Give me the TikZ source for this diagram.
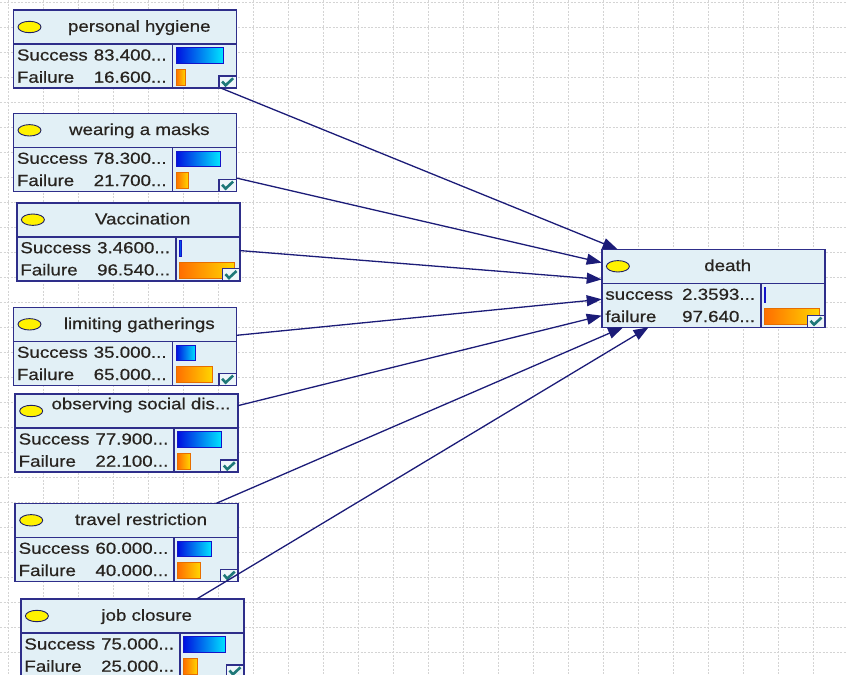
\documentclass[tikz,border=0pt]{standalone}
\usepackage{fontspec}
\setmainfont{Liberation Sans}[FakeStretch=1.17,FakeBold=0.6]
\usetikzlibrary{arrows.meta}
\definecolor{bnborder}{RGB}{46,46,138}
\definecolor{bnfill}{RGB}{226,240,246}
\definecolor{edgecol}{RGB}{28,28,120}
\definecolor{gridcol}{RGB}{212,212,212}
\definecolor{txtcol}{RGB}{40,36,32}
\definecolor{checkcol}{RGB}{30,120,120}
\definecolor{bluedark}{RGB}{0,16,224}
\definecolor{bluelight}{RGB}{0,230,255}
\definecolor{orangedark}{RGB}{255,110,0}
\definecolor{orangelight}{RGB}{255,215,0}
\definecolor{blueline}{RGB}{20,20,200}
\definecolor{orangeline}{RGB}{230,110,0}
\tikzset{
 bnbox/.style={draw=bnborder, fill=bnfill, line width=1.6pt, rectangle, minimum width=223pt, minimum height=78pt, anchor=north west, inner sep=0pt, outer sep=0pt},
 bnline/.style={draw=bnborder, line width=1.6pt},
 ellip/.style={draw=bnborder!70!black, fill=yellow, line width=0.9pt},
 titletext/.style={anchor=base, text=txtcol, font=\fontsize{16}{19}\selectfont, inner sep=0pt},
 rowtext/.style={text=txtcol, font=\fontsize{16}{19}\selectfont, inner sep=0pt},
 edge/.style={draw=edgecol, line width=1.3pt, -{Triangle[length=15pt,width=11pt]}},
 gridline/.style={draw=gridcol, line width=0.8pt, dash pattern=on 2pt off 1.5pt},
 checkbox/.style={draw=bnborder, fill=bnfill!60!white, line width=1.4pt},
 checkmark/.style={draw=checkcol, line width=2.6pt},
 bluebar/.style={left color=bluedark, right color=bluelight},
 orangebar/.style={left color=orangedark, right color=orangelight},
}
\newcommand{\bnnode}[9]{%
\begin{scope}[shift={(#2)}]
\node[bnbox] (#1) at (0,0) {};
\draw[bnline] (0,34) -- (223,34);
\draw[bnline] (159,34) -- (159,78);
\draw[ellip] (16.2,17) ellipse [x radius=11.5, y radius=5.7];
\node[titletext] (#1-t) at (126,21.7) {#3};
\node[rowtext, anchor=base west] (#1-sl) at (3.5,50.5) {#4};
\node[rowtext, anchor=base east] (#1-sv) at (153.5,50.5) {#5};
\node[rowtext, anchor=base west] (#1-fl) at (3.5,72.7) {#6};
\node[rowtext, anchor=base east] (#1-fv) at (153.5,72.7) {#7};
\shade[bluebar] (162.7,37.7) rectangle ++({56.5*#8},15.6);
\draw[blueline, line width=0.8pt] (162.7,37.7) rectangle ++({56.5*#8},15.6);
\shade[orangebar] (162.7,59.5) rectangle ++({56.5*#9},16);
\draw[orangeline, line width=0.8pt] (162.7,59.5) rectangle ++({56.5*#9},16);
\draw[checkbox] (205.5,66) rectangle (223,78);
\draw[checkmark] (208.8,71.5) -- (212.3,75.3) -- (219.8,68.3);
\end{scope}}
\begin{document}
\begin{tikzpicture}[x=1pt,y=-1pt]
\fill[white] (0,0) rectangle (847,675);
\useasboundingbox (0,0) rectangle (847,675);
\foreach \x in {8,43,...,848} \draw[gridline] (\x,0) -- (\x,675);
\foreach \y in {2,27,...,677} \draw[gridline] (0,\y) -- (847,\y);
\bnnode{ph}{13.3,10}{personal hygiene}{Success}{83.400...}{Failure}{16.600...}{0.834}{0.166}
\bnnode{wm}{13.3,113.3}{wearing a masks}{Success}{78.300...}{Failure}{21.700...}{0.783}{0.217}
\bnnode{va}{16.7,202.7}{Vaccination}{Success}{3.4600...}{Failure}{96.540...}{0.0346}{0.9654}
\bnnode{lg}{13.3,307.3}{limiting gatherings}{Success}{35.000...}{Failure}{65.000...}{0.35}{0.65}
\bnnode{os}{15,394}{\raisebox{6.4pt}{observing social dis...}}{Success}{77.900...}{Failure}{22.100...}{0.779}{0.221}
\bnnode{tr}{15,503.3}{travel restriction}{Success}{60.000...}{Failure}{40.000...}{0.6}{0.4}
\bnnode{jc}{20.7,599}{job closure}{Success}{75.000...}{Failure}{25.000...}{0.75}{0.25}
\bnnode{de}{601.7,249.3}{death}{success}{2.3593...}{failure}{97.640...}{0.0236}{0.9764}
\foreach \n in {ph,wm,va,lg,os,tr,jc} \draw[edge] (\n) -- (de);
\end{tikzpicture}
\end{document}
